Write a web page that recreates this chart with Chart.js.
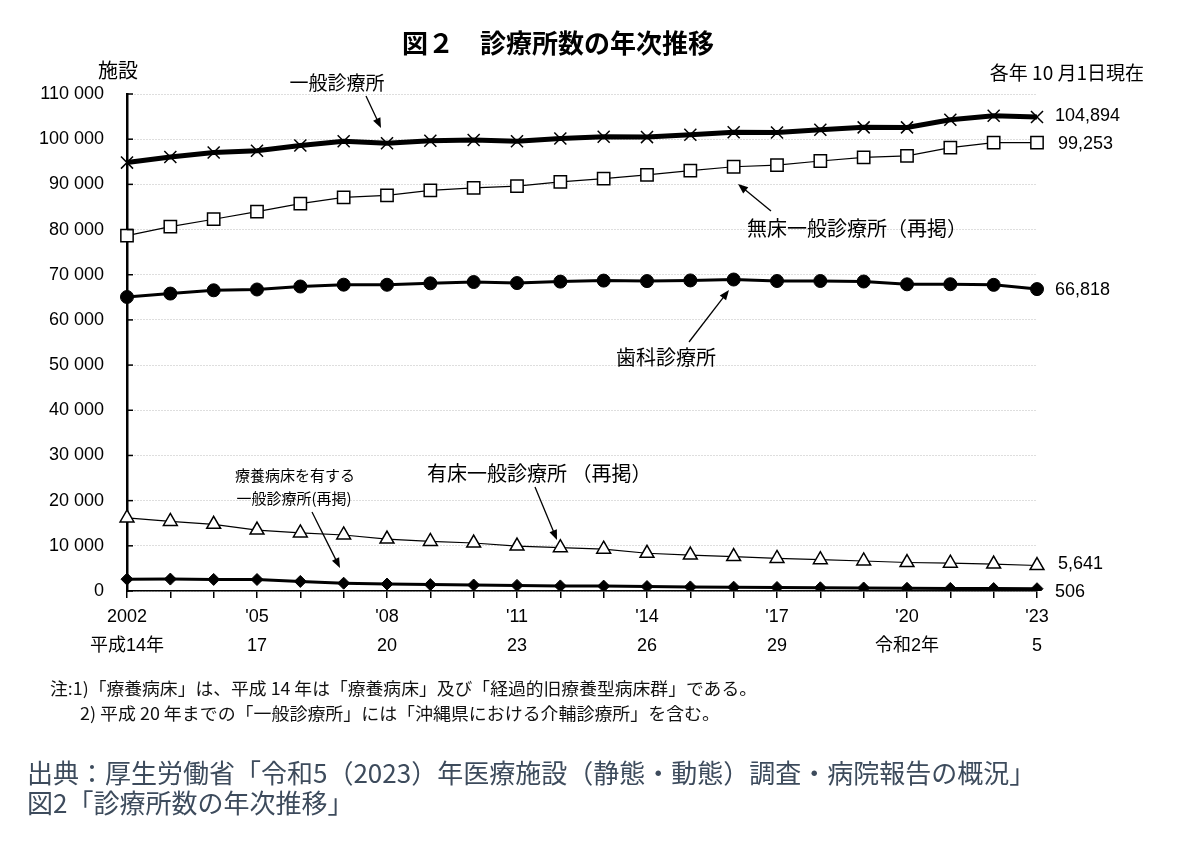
<!DOCTYPE html>
<html><head><meta charset="utf-8">
<script src="https://cdn.jsdelivr.net/npm/chart.js@4/dist/chart.umd.min.js"></script>
<style>
html,body{margin:0;padding:0;background:#fff;}
body{width:1198px;height:842px;overflow:hidden;position:relative;font-family:'Liberation Sans','Noto Sans CJK JP',sans-serif;}
#c{position:absolute;left:0;top:0;}
.note{position:absolute;font-size:17px;color:#111;white-space:nowrap;line-height:1;transform-origin:0 50%;font-family:'Noto Sans CJK JP',sans-serif;}
.src{position:absolute;left:27px;font-size:26px;color:#3d4b5c;white-space:nowrap;line-height:1;font-family:'Noto Sans CJK JP',sans-serif;}
</style></head><body>
<canvas id="c" width="1198" height="842"></canvas>
<div class="note" id="n1" data-w="707" style="left:50px;top:679px">注:1)「療養病床」は、平成 14 年は「療養病床」及び「経過的旧療養型病床群」である。</div>
<div class="note" id="n2" data-w="640" style="left:80px;top:704px">2) 平成 20 年までの「一般診療所」には「沖縄県における介輔診療所」を含む。</div>
<div class="src" style="top:759px">出典：厚生労働省「令和5（2023）年医療施設（静態・動態）調査・病院報告の概況」</div>
<div class="src" style="top:789px">図2「診療所数の年次推移」</div>
<script>
// ---- data ----
const years = ["2002","2003","2004","2005","2006","2007","2008","2009","2010","2011","2012","2013","2014","2015","2016","2017","2018","2019","2020","2021","2022","2023"];
const xTickYears = ["2002","'05","'08","'11","'14","'17","'20","'23"];
const xTickEras = ["平成14年","17","20","23","26","29","令和2年","5"];
const general = [94819,96050,97051,97442,98609,99532,99083,99635,99824,99547,100152,100528,100461,100995,101529,101471,102105,102616,102612,104292,105182,104894];
const noBed = [78641,80642,82286,83965,85751,87133,87583,88653,89204,89613,90556,91279,92106,93034,93900,94269,95171,95972,96309,98123,99224,99253];
const dental = [65073,65828,66557,66732,67392,67798,67779,68097,68384,68156,68474,68701,68592,68737,68940,68609,68613,68500,67874,67899,67755,66818];
const withBed = [16178,15408,14765,13477,12858,12399,11500,10982,10620,9934,9596,9249,8355,7961,7629,7202,6934,6644,6303,6169,5958,5641];
const longTermBed = [2620,2640,2560,2544,2118,1728,1539,1412,1325,1241,1125,1083,986,904,850,780,714,665,600,570,539,506];
const endLabels = ["104,894","99,253","66,818","5,641","506"];
const seriesNames = ["一般診療所","無床一般診療所（再掲）","歯科診療所","有床一般診療所 （再掲）","療養病床を有する一般診療所(再掲)"];

// fit notes width
document.querySelectorAll('.note').forEach(el=>{
  const w = el.getBoundingClientRect().width;
  el.style.transform = 'scaleX(' + (parseFloat(el.dataset.w)/w) + ')';
});

const JP = '"Noto Sans CJK JP", sans-serif';
const LAT = '"Liberation Sans", "Noto Sans CJK JP", sans-serif';

function arrow(ctx, x1, y1, x2, y2){
  ctx.save();
  ctx.strokeStyle = '#000'; ctx.fillStyle = '#000'; ctx.lineWidth = 1.3;
  const a = Math.atan2(y2-y1, x2-x1);
  const L = 10, W = 4;
  ctx.beginPath(); ctx.moveTo(x1,y1); ctx.lineTo(x2 - Math.cos(a)*L*0.8, y2 - Math.sin(a)*L*0.8); ctx.stroke();
  ctx.beginPath();
  ctx.moveTo(x2,y2);
  ctx.lineTo(x2 - Math.cos(a)*L - Math.sin(a)*W, y2 - Math.sin(a)*L + Math.cos(a)*W);
  ctx.lineTo(x2 - Math.cos(a)*L + Math.sin(a)*W, y2 - Math.sin(a)*L - Math.cos(a)*W);
  ctx.closePath(); ctx.fill();
  ctx.restore();
}

const decor = {
  id:'decor',
  afterDraw(chart){
    const ctx = chart.ctx, ca = chart.chartArea;
    const ys = chart.scales.y;
    ctx.save();
    ctx.fillStyle = '#000';
    // title
    ctx.font = 'bold 26px ' + JP; ctx.textAlign = 'center'; ctx.textBaseline = 'middle';
    ctx.fillText('図２　診療所数の年次推移', 558, 43);
    ctx.font = '20px ' + JP;
    ctx.fillText('施設', 118, 70);
    ctx.font = '19px ' + JP;
    ctx.textAlign = 'right';
    ctx.fillText('各年 10 月1日現在', 1144, 73);
    // inner y ticks
    ctx.strokeStyle = '#000'; ctx.lineWidth = 1.5;
    ys.ticks.forEach(t=>{
      const py = ys.getPixelForValue(t.value);
      ctx.beginPath(); ctx.moveTo(ca.left, py); ctx.lineTo(ca.left+6, py); ctx.stroke();
    });
    // annotations
    ctx.textAlign = 'center'; ctx.font = '19px ' + JP;
    ctx.fillText(seriesNames[0], 337, 83);
    arrow(ctx, 366, 96, 381, 128);
    ctx.font = '20px ' + JP;
    ctx.fillText(seriesNames[1], 857, 228);
    arrow(ctx, 771, 211, 738, 184);
    ctx.fillText(seriesNames[2], 666, 357);
    arrow(ctx, 689, 342, 729, 290);
    ctx.textAlign = 'left';
    ctx.fillText(seriesNames[3], 427, 473);
    arrow(ctx, 535, 487, 557, 540);
    ctx.textAlign = 'center'; ctx.font = '15px ' + JP;
    ctx.fillText('療養病床を有する', 295, 475);
    ctx.fillText('一般診療所(再掲)', 294, 498);
    arrow(ctx, 312, 512, 340, 568);
    // end labels
    ctx.font = '18px ' + LAT; ctx.textAlign = 'left';
    const last = years.length - 1;
    const ds = [general, noBed, dental, withBed, longTermBed];
    const offs = [-1, 1, 1, -1, 3];
    const xs = [1055, 1058, 1055, 1058, 1055];
    ds.forEach((arr,i)=>{
      ctx.fillText(endLabels[i], xs[i], ys.getPixelForValue(arr[last]) + offs[i]);
    });
    ctx.restore();
  }
};

new Chart(document.getElementById('c'), {
  type:'line',
  data:{
    labels: years,
    datasets:[
      {label:seriesNames[0], data:general, borderColor:'#000', borderWidth:5, pointStyle:'crossRot', pointRadius:8.5, pointBorderWidth:1.5, pointBorderColor:'#000', pointBackgroundColor:'#000', tension:0},
      {label:seriesNames[1], data:noBed, borderColor:'#000', borderWidth:1.2, pointStyle:'rect', pointRadius:8.7, pointBorderWidth:1.5, pointBorderColor:'#000', pointBackgroundColor:'#fff', tension:0},
      {label:seriesNames[2], data:dental, borderColor:'#000', borderWidth:3, pointStyle:'circle', pointRadius:6.5, pointBorderWidth:1, pointBorderColor:'#000', pointBackgroundColor:'#000', tension:0},
      {label:seriesNames[3], data:withBed, borderColor:'#000', borderWidth:1.2, pointStyle:'triangle', pointRadius:8, pointBorderWidth:1.5, pointBorderColor:'#000', pointBackgroundColor:'#fff', tension:0},
      {label:seriesNames[4], data:longTermBed, borderColor:'#000', borderWidth:3, pointStyle:'rectRot', pointRadius:6, pointBorderWidth:1, pointBorderColor:'#000', pointBackgroundColor:'#000', tension:0}
    ]
  },
  options:{
    responsive:false, animation:false,
    layout:{padding:{left:0, top:94, right:161, bottom:171}},
    plugins:{legend:{display:false}, tooltip:{enabled:false}, title:{display:false}},
    scales:{
      x:{
        offset:false,
        grid:{display:true, drawOnChartArea:false, drawTicks:true, tickLength:7, color:'#000', lineWidth:1.5},
        border:{display:true, color:'#000', width:1.5},
        ticks:{autoSkip:false, maxRotation:0, minRotation:0, padding:5, color:'#000',
          font:{family:'"Liberation Sans", "Noto Sans CJK JP", sans-serif', size:18, lineHeight:1.6},
          callback:(v, i)=> i % 3 === 0 ? [xTickYears[i/3], xTickEras[i/3]] : ''},
        afterFit:(s)=>{ s.height = 80; }
      },
      y:{
        min:0, max:110000,
        grid:{display:true, drawTicks:false, color:'#bdbdbd', lineWidth:1},
        border:{display:true, color:'#000', width:2.5, dash:[1,2]},
        ticks:{stepSize:10000, padding:23, color:'#000',
          font:{family:'"Liberation Sans", sans-serif', size:18},
          callback:(v)=> v === 0 ? '0' : String(v).replace(/\B(?=(\d{3})+(?!\d))/g, ' ')},
        afterFit:(s)=>{ s.width = 127; }
      }
    }
  },
  plugins:[decor]
});
</script>
</body></html>
